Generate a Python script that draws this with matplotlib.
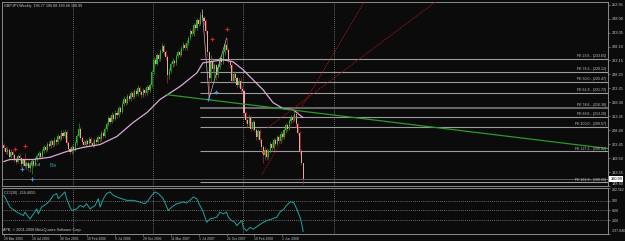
import matplotlib
matplotlib.use("Agg")
import matplotlib.pyplot as plt
import matplotlib.transforms as mtransforms
import numpy as np

plt.rcParams["font.family"] = ["Liberation Sans", "DejaVu Sans"]

# weekly GBPJPY bars (bar 0 = 20 Mar 2005)
close = [202.0, 200.5, 201.5, 199.0, 200.8, 199.5, 198.0, 197.2, 199.4, 198.6,
         196.5, 197.8, 195.6, 196.9, 195.0, 196.2, 197.5, 196.0, 198.1, 199.3,
         200.2, 199.0, 201.0, 202.4, 201.5, 203.6, 202.8, 204.5, 203.2, 205.0,
         204.1, 206.3, 205.4, 207.5, 206.2, 207.8, 204.0, 201.8, 200.6, 202.5,
         201.3, 203.8, 206.5, 209.0, 205.5, 204.2, 203.0, 204.6, 203.5, 205.2,
         204.0, 203.2, 205.0, 204.3, 206.0, 205.2, 207.4, 206.5, 208.8, 210.5,
         212.8, 211.4, 213.9, 212.5, 214.6, 213.8, 216.2, 215.0, 217.8, 219.5,
         218.2, 220.6, 219.4, 221.5, 220.3, 222.4, 221.2, 223.5, 222.0, 220.8,
         222.6, 221.5, 223.8, 222.6, 224.5, 229.0, 233.5, 232.0, 235.0, 233.8,
         236.5, 238.2, 236.0, 234.5, 228.0, 229.5, 231.8, 233.0, 232.2, 234.6,
         236.0, 235.2, 237.5, 238.8, 237.6, 239.5, 241.0, 243.5, 242.6, 245.8,
         244.6, 247.5, 246.2, 249.4, 248.2, 247.0, 243.5, 236.0, 227.0, 233.0,
         230.0, 231.5, 228.0, 231.0, 234.0, 232.5, 236.0, 238.5, 237.0, 233.0,
         231.5, 226.0, 228.5, 227.0, 224.5, 226.0, 223.0, 222.4, 214.5, 212.0,
         210.5, 212.8, 209.0, 211.2, 208.5, 206.0, 208.2, 205.0, 202.5, 199.5,
         201.5, 199.0, 201.0, 203.5, 202.0, 204.8, 203.6, 206.0, 204.5, 207.2,
         206.0, 208.5, 210.2, 209.0, 211.5, 213.0, 212.2, 214.0, 210.5, 207.5,
         201.0, 196.77, 190.99]
high = [203.8, 202.6, 202.3, 202.1, 201.6, 201.4, 200.2, 198.9, 200.1, 200.0,
        199.0, 198.6, 200.2, 197.6, 197.3, 197.0, 198.2, 198.3, 198.9, 200.0,
        201.1, 200.9, 201.8, 203.1, 203.0, 204.3, 204.4, 205.3, 205.0, 205.9,
        205.8, 207.0, 207.2, 208.3, 208.6, 209.0, 208.4, 204.6, 202.5, 203.3,
        203.0, 204.5, 207.2, 210.8, 209.6, 206.2, 204.9, 205.3, 205.2, 205.9,
        206.0, 204.8, 205.7, 205.8, 206.8, 206.9, 208.2, 208.3, 209.6, 211.4,
        213.6, 213.5, 214.7, 214.6, 215.4, 215.5, 217.0, 216.9, 218.6, 220.4,
        220.2, 221.4, 221.3, 222.3, 222.2, 223.2, 223.1, 224.3, 224.2, 222.7,
        223.4, 223.3, 224.6, 224.5, 225.3, 229.8, 234.4, 234.2, 235.9, 235.8,
        237.4, 239.2, 238.9, 236.7, 235.0, 230.4, 232.6, 233.9, 233.8, 235.4,
        236.9, 236.8, 238.3, 239.7, 239.5, 240.3, 241.9, 244.3, 244.2, 246.6,
        246.5, 248.3, 248.2, 250.2, 251.1, 249.0, 248.0, 244.0, 236.5, 235.0,
        233.8, 232.4, 232.0, 231.8, 234.8, 235.2, 236.9, 239.3, 241.1, 237.6,
        233.6, 232.2, 229.4, 229.2, 227.7, 226.9, 226.8, 224.1, 223.0, 215.3,
        212.8, 213.7, 213.4, 212.0, 211.9, 209.2, 209.0, 208.9, 205.7, 203.2,
        202.4, 202.1, 201.8, 204.3, 204.2, 205.6, 205.5, 206.8, 206.7, 208.0,
        207.9, 209.3, 211.0, 210.9, 212.3, 213.8, 213.9, 215.5, 214.6, 211.2,
        208.0, 201.6, 196.88]
low = [201.2, 199.8, 199.9, 198.4, 198.5, 198.7, 197.1, 196.3, 196.8, 197.5,
       195.2, 195.8, 195.0, 194.8, 194.1, 193.6, 192.8, 195.2, 195.6, 197.4,
       198.6, 198.2, 198.5, 200.4, 200.6, 201.0, 202.0, 202.1, 202.5, 202.7,
       203.3, 203.6, 204.6, 204.9, 205.5, 205.8, 203.2, 200.9, 199.8, 200.0,
       200.4, 200.9, 203.2, 205.9, 204.8, 203.4, 202.1, 202.4, 202.7, 202.9,
       203.3, 202.3, 202.6, 203.6, 203.8, 204.3, 204.6, 205.7, 205.9, 208.1,
       209.8, 210.6, 210.8, 211.6, 211.9, 212.9, 213.1, 214.2, 214.5, 217.1,
       217.4, 217.6, 218.6, 218.8, 219.5, 219.7, 220.4, 220.6, 221.2, 219.9,
       220.2, 220.7, 220.9, 221.8, 222.0, 223.9, 228.4, 231.1, 231.4, 232.9,
       233.1, 235.8, 235.1, 233.3, 225.3, 226.6, 228.8, 231.0, 231.3, 231.6,
       233.9, 234.3, 234.6, 236.9, 236.7, 237.0, 238.8, 240.4, 241.7, 242.0,
       243.7, 244.0, 245.3, 245.6, 247.3, 245.9, 242.5, 234.8, 219.8, 225.5,
       228.6, 227.0, 226.2, 227.2, 230.2, 231.5, 231.9, 235.2, 236.3, 232.1,
       230.4, 225.1, 225.3, 226.1, 223.4, 223.8, 222.1, 221.5, 213.0, 210.9,
       209.4, 209.8, 208.1, 208.3, 207.6, 205.1, 205.4, 204.0, 201.4, 196.6,
       198.3, 197.8, 198.2, 200.4, 201.1, 201.4, 202.8, 203.0, 203.7, 203.9,
       205.2, 205.4, 207.8, 208.2, 208.4, 210.9, 211.4, 211.6, 209.6, 206.6,
       199.8, 195.9, 189.48]
first_open = 203.2
opens = [first_open] + close[:-1]

# moving average (pink line), read at these bars
ma_bar = [0, 3.5, 9.3, 16.7, 26.5, 36.3, 45.5, 55.2, 65, 74.2, 82.3, 89.7, 101.2,
          111, 114.4, 118.5, 126, 131.7, 137.4, 143.2, 148.9, 154.7, 160.4, 166.2, 171.9]
ma_val = [197.3, 198.0, 198.0, 198.0, 198.8, 200.9, 202.3, 203.3, 206.2, 211.1, 214.7,
          219.3, 223.9, 228.8, 232.3, 232.7, 233.4, 232.7, 229.9, 226.3, 222.8, 218.2,
          216.1, 215.7, 212.9]

# CCI(30)
cci_bar = [0, 1.6, 3.5, 7.4, 11.2, 12.1, 15, 17, 18.9, 19.8, 21.7, 24.6, 26.5, 28.4,
           30.3, 31.3, 33.2, 35.1, 36.1, 38, 39, 41.8, 43.8, 45.7, 47.6, 49.5, 52.4,
           54.3, 55.3, 57.2, 59.1, 61, 62.9, 64.8, 67.7, 70.6, 74.4, 78.2, 81.1, 83,
           85, 86.9, 88.8, 91.6, 94.5, 96.4, 99.3, 103.1, 105, 107.9, 108.9, 110.8,
           112.7, 114.6, 116.6, 118.5, 122.3, 124.2, 126.1, 128, 129, 130.9, 132.8,
           133.8, 135.7, 136.7, 137.6, 139.5, 141.5, 143.4, 146.2, 149.1, 151, 153.9,
           156.8, 158.7, 161, 162.5, 164.4, 166.4, 168.3, 170.2, 171.2, 172]
cci_val = [157, 105, 35, -17, -52, -17, -88, -35, 17, -35, 35, 70, 105, 157, 175, 122,
           157, 192, 122, 35, 0, 17, 52, 35, 70, 17, 52, 122, 35, 122, 175, 192, 157,
           140, 122, 105, 105, 87, 70, 105, 157, 192, 175, 122, 0, 35, 70, 87, 77, 122,
           140, 122, 52, -17, -122, -88, -70, -17, -35, -17, -70, -105, -122, -157,
           -122, -105, -175, -210, -175, -192, -157, -122, -105, -88, -70, -17, 17, 52,
           87, 87, 17, -70, -140, -216.47]

# Fibonacci expansion
fe_ratio = ["23.6", "38.2", "50.0", "61.8", "78.6", "88.6", "100.0", "127.2", "161.8"]
fe_level = [233.65, 229.12, 225.47, 221.72, 216.38, 213.20, 209.57, 200.92, 189.92]
fe_anchor_bar = [114, 118, 128]
fe_anchor_price = [251.1, 219.8, 241.1]

trend_bar = [93.8, 347.2]
trend_price = [221.0, 201.9]
red_ray1_bar = [148.3, 207.0]
red_ray1_price = [192.7, 253.9]
red_ray2_bar = [151.8, 247.9]
red_ray2_price = [209.35, 253.9]

red_plus_bar = [6.4, 12.1, 119.4, 128.4]
red_plus_price = [201.6, 202.7, 240.7, 244.4]
blue_plus_bar = [10.2, 16.3, 121.7, 117.5]
blue_plus_price = [194.5, 191.2, 222.0, 219.6]
orange_bar = [148.8]
orange_price = [200.6]

price_ticks = [252.95, 248.00, 243.05, 238.10, 233.15, 228.20, 223.25, 218.30,
               213.35, 208.40, 203.45, 198.50, 193.55, 188.60]
cci_ticks = [232.562, 100, 0, -100, -237.846]
cci_tick_labels = ["232.562", "100", "0.00", "-100", "-237.846"]
date_bars = [0, 16, 32, 48, 64, 80, 96, 112, 128, 144, 160]
date_labels = ["20 Mar 2005", "10 Jul 2005", "30 Oct 2005", "19 Feb 2006", "9 Jul 2006",
               "29 Oct 2006", "11 Mar 2007", "1 Jul 2007", "21 Oct 2007", "10 Feb 2008",
               "1 Jun 2008"]
separator_bars = [39.7, 85.7, 137.4, 189.7]
last_price = 190.99

BG = "#0b0b0b"
FG = "#c8c8c8"
EDGE = "#8c8c8c"
W, H = 625, 241

fig = plt.figure(figsize=(6.25, 2.41), dpi=100, facecolor=BG)


def px_axes(left, top, right, bottom):
    return fig.add_axes([left / W, 1 - bottom / H, (right - left) / W, (bottom - top) / H])


ax = px_axes(2, 2, 608, 186)
axc = px_axes(2, 188, 608, 233.5)

for a in (ax, axc):
    a.set_facecolor(BG)
    for s in a.spines.values():
        s.set_color(EDGE)
        s.set_linewidth(0.7)
    a.set_xlim(-1.07, 347.2)
    a.yaxis.tick_right()
    a.tick_params(axis="y", colors=EDGE, labelcolor=FG, labelsize=2.8, length=1.5,
                  width=0.5, pad=1)
    for b in separator_bars:
        a.axvline(b, color="#8a8a8a", lw=0.6, ls=(0, (1, 1.5)), zorder=1)

ax.set_ylim(188.85, 253.91)
ax.set_xticks([])
ax.set_yticks(price_ticks)
ax.set_yticklabels(["%.2f" % p for p in price_ticks])
ax.get_yticklabels()[-1].set_va("bottom")

# candles
x = np.arange(len(close))
o = np.array(opens)
c = np.array(close)
up = c >= o
wick_col = np.where(up, "#1e9b1e", "#b52a2a")
body_col = np.where(up, "#2db52d", "#eaa6a6")
ax.vlines(x, low, high, colors=wick_col, lw=0.5, zorder=3)
body_h = np.maximum(np.abs(c - o), 0.15)
ax.bar(x, body_h, bottom=np.minimum(o, c), width=0.62, color=body_col, lw=0, zorder=4)

ax.plot(ma_bar, ma_val, color="#d8a8d8", lw=0.9, zorder=5)

# fib expansion levels
blend = mtransforms.blended_transform_factory(ax.transAxes, ax.transData)
for r, lev in zip(fe_ratio, fe_level):
    if r == "78.6":
        ax.hlines(lev, fe_anchor_bar[0] - 1, 347.2, color="#707070", lw=1.3, zorder=2)
    else:
        ax.hlines(lev, fe_anchor_bar[0] - 1, 347.2, color="#9c9c9c", lw=0.8, zorder=2)
    ax.text(0.997, lev + 0.25, "FE %s - (%.2f)" % (r, lev), transform=blend,
            ha="right", va="bottom", fontsize=2.6, color=FG, zorder=6)
ax.plot(fe_anchor_bar, fe_anchor_price, color="#b8b8b8", lw=0.5, zorder=6)

ax.axhline(last_price, color="#6a6a6a", lw=0.6, zorder=2)
ax.plot(trend_bar, trend_price, color="#2a9a2a", lw=0.9, zorder=5)
ax.plot(red_ray1_bar, red_ray1_price, color="#b01818", lw=0.7, ls=(0, (1, 1)), zorder=5)
ax.plot(red_ray2_bar, red_ray2_price, color="#b01818", lw=0.7, ls=(0, (1, 1)), zorder=5)

ax.plot(red_plus_bar, red_plus_price, "+", color="#e02020", ms=3, mew=0.8, zorder=7)
ax.plot(blue_plus_bar, blue_plus_price, "+", color="#3a96e6", ms=3, mew=0.8, zorder=7)
ax.plot(orange_bar, orange_price, "o", color="#e06020", ms=2.2, mew=0, zorder=7)

ax.text(11.5, 195.9, "14.63.54", fontsize=3.2, color="#b0b0b0", va="center", zorder=7)
ax.text(26.5, 195.9, "Bar", fontsize=3.4, color="#2a9aa8", va="center", zorder=7)

ax.text(0.003, 0.99, "GBPJPY,Weekly  196.77 196.88 189.48 190.99", transform=ax.transAxes,
        ha="left", va="top", fontsize=2.7, color=FG)
ax.text(1.004, last_price, "%.2f" % last_price, transform=blend, ha="left", va="center",
        fontsize=2.8, color="black", zorder=8,
        bbox=dict(boxstyle="square,pad=0.25", fc="white", ec="none"))

# CCI panel
axc.set_ylim(-237.846, 232.562)
axc.set_yticks(cci_ticks)
axc.set_yticklabels(cci_tick_labels)
axc.tick_params(axis="y", labelsize=2.5)
cci_lbls = axc.get_yticklabels()
cci_lbls[0].set_va("top")
cci_lbls[-1].set_va("bottom")
for lev in (100, 0, -100):
    axc.axhline(lev, color="#8a8a8a", lw=0.6, ls=(0, (1, 1.5)), zorder=1)
axc.plot(cci_bar, cci_val, color="#1fa3a3", lw=0.7, zorder=3)
axc.text(0.003, 0.93, "CCI(30) -216.4655", transform=axc.transAxes, ha="left", va="top",
         fontsize=2.7, color=FG)
axc.text(0.002, 0.04, "APB, \u00a9 2001-2008 MetaQuotes Software Corp.",
         transform=axc.transAxes, ha="left", va="bottom", fontsize=2.7, color=FG)

axc.set_xticks(date_bars)
axc.set_xticklabels(date_labels)
axc.tick_params(axis="x", colors=EDGE, labelcolor=FG, labelsize=2.4, length=1.5,
                width=0.5, pad=1)
for lbl in axc.get_xticklabels():
    lbl.set_ha("left")

fig.savefig("out.png", dpi=100, facecolor=BG)
